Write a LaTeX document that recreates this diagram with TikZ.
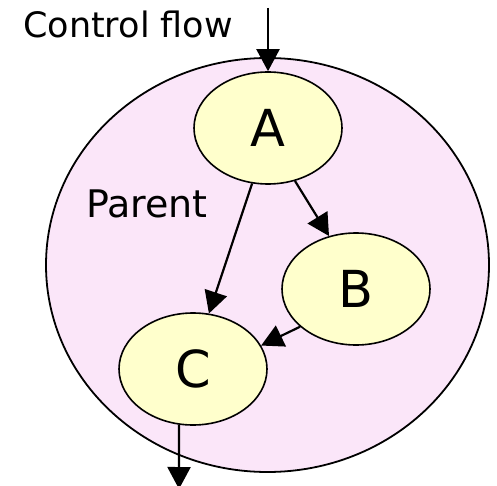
\documentclass[tikz,border=0pt]{standalone}
\usepackage{fontspec}
\setmainfont{DejaVu Sans}
\usetikzlibrary{shapes.geometric,arrows.meta}
\definecolor{parentpink}{RGB}{251,230,249}
\definecolor{nodeyellow}{RGB}{255,255,204}
\tikzset{
  taskbox/.style={ellipse, draw=black, line width=1.6pt, fill=nodeyellow,
    minimum width=148pt, minimum height=112pt, inner sep=0pt,
    font=\fontsize{51}{51}\selectfont},
  flowarrow/.style={line width=2.2pt, -{Triangle[length=22pt,width=23pt]}},
  labeltext/.style={anchor=base west, inner sep=0pt}
}
\begin{document}
\begin{tikzpicture}[x=1pt,y=-1pt]
\useasboundingbox (0,0) rectangle (497,486);
\node[ellipse, draw=black, line width=1.8pt, fill=parentpink,
  minimum width=443pt, minimum height=414pt, inner sep=0pt] (parent) at (267.5,265) {};
\node[taskbox] (A) at (268,128) {A};
\node[taskbox] (B) at (356,289) {B};
\node[taskbox] (C) at (193,369) {C};
\node[labeltext, font=\fontsize{35}{35}\selectfont] (cf) at (23,38) {Control flow};
\node[labeltext, font=\fontsize{38}{38}\selectfont] (pl) at (86,218) {Parent};
\coordinate (in) at (268,8);
\coordinate (out) at (179,489);
\draw[flowarrow] (in) -- (A.north);
\draw[flowarrow] (A.254) -- (C.74);
\draw[flowarrow] (A.297) -- (B.117);
\draw[flowarrow] (B.214) -- (C.19);
\draw[flowarrow] (C.256) -- (out);
\end{tikzpicture}
\end{document}
